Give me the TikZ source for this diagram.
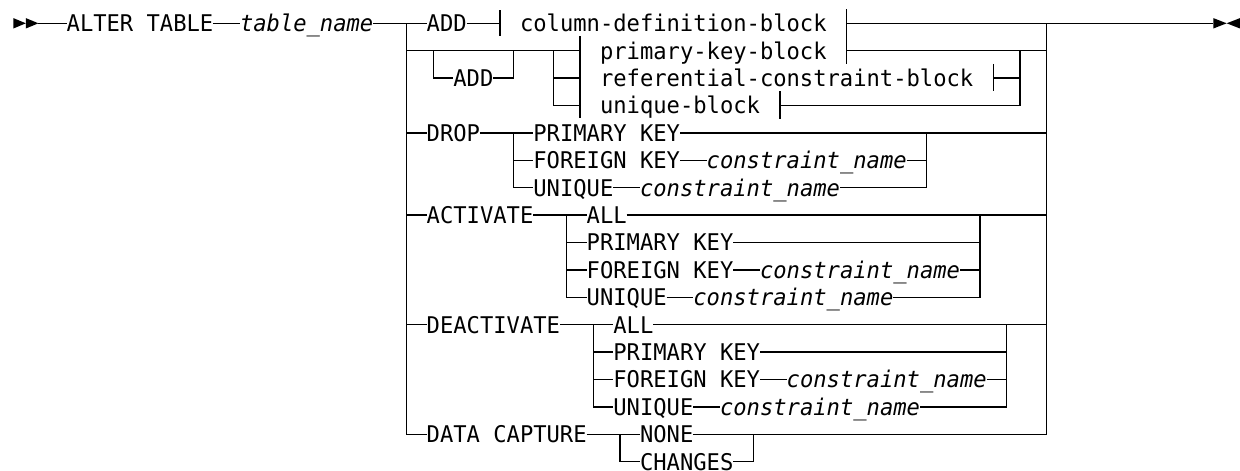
\documentclass[tikz,border=0pt]{standalone}
\usepackage{fontspec}
\setmonofont{DejaVu Sans Mono}[FakeStretch=0.9629, ItalicFont={DejaVu Sans Mono Oblique}, ItalicFeatures={FakeStretch=0.9629}]
\usetikzlibrary{calc}
\newcommand{\us}{\string_}
\begin{document}
\begin{tikzpicture}[x=13.3333pt, y=-27.4pt, line width=1.3pt,
  txt/.style={inner sep=0pt, outer sep=0pt, anchor=west, text height=16.77pt, text depth=0pt,
    font=\fontsize{23pt}{27pt}\selectfont\ttfamily},
  var/.style={txt, font=\fontsize{23pt}{27pt}\selectfont\ttfamily\itshape},
  marker/.style={fill=black, draw=none}]
\useasboundingbox (0,-0.8504) rectangle (93,16.339);

% ---------- texts ----------
\node[txt] (alter) at (5,0) {ALTER TABLE};
\node[var] (tname) at (18,0) {table\us name};
\node[txt] (add1) at (32,0) {ADD};
\node[txt] (cdb) at (39,0) {column-definition-block};
\node[txt] (add2) at (34,2) {ADD};
\node[txt] (pkb) at (45,1) {primary-key-block};
\node[txt] (rcb) at (45,2) {referential-constraint-block};
\node[txt] (ub) at (45,3) {unique-block};
\node[txt] (drop) at (32,4) {DROP};
\node[txt] (pk1) at (40,4) {PRIMARY KEY};
\node[txt] (fk1) at (40,5) {FOREIGN KEY};
\node[var] (cn1) at (53,5) {constraint\us name};
\node[txt] (uq1) at (40,6) {UNIQUE};
\node[var] (cn2) at (48,6) {constraint\us name};
\node[txt] (act) at (32,7) {ACTIVATE};
\node[txt] (all1) at (44,7) {ALL};
\node[txt] (pk2) at (44,8) {PRIMARY KEY};
\node[txt] (fk2) at (44,9) {FOREIGN KEY};
\node[var] (cn3) at (57,9) {constraint\us name};
\node[txt] (uq2) at (44,10) {UNIQUE};
\node[var] (cn4) at (52,10) {constraint\us name};
\node[txt] (deact) at (32,11) {DEACTIVATE};
\node[txt] (all2) at (46,11) {ALL};
\node[txt] (pk3) at (46,12) {PRIMARY KEY};
\node[txt] (fk3) at (46,13) {FOREIGN KEY};
\node[var] (cn5) at (59,13) {constraint\us name};
\node[txt] (uq3) at (46,14) {UNIQUE};
\node[var] (cn6) at (54,14) {constraint\us name};
\node[txt] (dc) at (32,15) {DATA CAPTURE};
\node[txt] (none) at (48,15) {NONE};
\node[txt] (chg) at (48,16) {CHANGES};

% ---------- junctions ----------
\coordinate (start) at (2.88,0);
\coordinate (endm) at (91,0);
\coordinate (L0) at (30.5,0);
\coordinate (L1) at (30.5,1);
\coordinate (L4) at (30.5,4);
\coordinate (L7) at (30.5,7);
\coordinate (L11) at (30.5,11);
\coordinate (R0) at (78.5,0);
\coordinate (R1) at (78.5,1);
\coordinate (R4) at (78.5,4);
\coordinate (R7) at (78.5,7);
\coordinate (R11) at (78.5,11);
\coordinate (t0) at (37.5,0);
\coordinate (t63a) at (63.5,0);
\coordinate (t63b) at (63.5,1);
\coordinate (o1) at (32.5,1);
\coordinate (o2) at (38.5,1);
\coordinate (b1) at (41.5,1);
\coordinate (b2) at (41.5,2);
\coordinate (t43a) at (43.5,1);
\coordinate (t43b) at (43.5,2);
\coordinate (t43c) at (43.5,3);
\coordinate (t74) at (74.5,2);
\coordinate (t58) at (58.5,3);
\coordinate (m1) at (76.5,1);
\coordinate (d1) at (38.5,4);
\coordinate (d2) at (38.5,5);
\coordinate (dr) at (69.5,4);
\coordinate (dr5) at (69.5,5);
\coordinate (a1) at (42.5,7);
\coordinate (a2) at (42.5,8);
\coordinate (a3) at (42.5,9);
\coordinate (ar) at (73.5,7);
\coordinate (ar8) at (73.5,8);
\coordinate (ar9) at (73.5,9);
\coordinate (e1) at (44.5,11);
\coordinate (e2) at (44.5,12);
\coordinate (e3) at (44.5,13);
\coordinate (er) at (75.5,11);
\coordinate (er12) at (75.5,12);
\coordinate (er13) at (75.5,13);
\coordinate (c1) at (46.5,15);
\coordinate (cr) at (56.5,15);

% ---------- start / end markers ----------
\fill[marker] (1,-0.19) -- (1.94,0) -- (1,0.19) -- cycle;
\fill[marker] (1.94,-0.19) -- (2.88,0) -- (1.94,0.19) -- cycle;
\fill[marker] (91,-0.19) -- (92,0) -- (91,0.19) -- cycle;
\fill[marker] (93,-0.19) -- (92,0) -- (93,0.19) -- cycle;

% ---------- main line ----------
\draw (start) -- (alter.west);
\draw (alter.east) -- (tname.west);
\draw (tname.east) -- (add1.west);
\draw (L0) |- (dc.west);
\draw (none.east) -| (R0);
\draw (t63a) -- (endm);

% ---------- ADD blocks ----------
\draw (add1.east) -- (t0);
\draw (t0) ++(0,-0.47) -- ++(0,0.95);
\draw ($(t63a)+(0,-0.52)$) -- ($(t63b)+(0,0.47)$);
\draw (L1) -- (t43a);
\draw (o1) |- (add2.west);
\draw (add2.east) -| (o2);
\draw (b1) |- (t43c);
\draw (b2) -- (t43b);
\draw ($(t43a)+(0,-0.52)$) -- ($(t43c)+(0,0.47)$);
\draw (t74) ++(0,-0.52) -- ++(0,1.0);
\draw (t58) ++(0,-0.52) -- ++(0,1.0);
\draw (t63b) -- (R1);
\draw (t74) -| (m1);
\draw (t58) -| (m1);

% ---------- DROP ----------
\draw (L4) -- (drop.west);
\draw (drop.east) -- (pk1.west);
\draw (pk1.east) -- (R4);
\draw (d1) |- (uq1.west);
\draw (d2) -- (fk1.west);
\draw (fk1.east) -- (cn1.west);
\draw (uq1.east) -- (cn2.west);
\draw (cn1.east) -- (dr5);
\draw (cn2.east) -| (dr);

% ---------- ACTIVATE ----------
\draw (L7) -- (act.west);
\draw (act.east) -- (all1.west);
\draw (all1.east) -- (R7);
\draw (a1) |- (uq2.west);
\draw (a2) -- (pk2.west);
\draw (a3) -- (fk2.west);
\draw (fk2.east) -- (cn3.west);
\draw (uq2.east) -- (cn4.west);
\draw (pk2.east) -- (ar8);
\draw (cn3.east) -- (ar9);
\draw (cn4.east) -| (ar);

% ---------- DEACTIVATE ----------
\draw (L11) -- (deact.west);
\draw (deact.east) -- (all2.west);
\draw (all2.east) -- (R11);
\draw (e1) |- (uq3.west);
\draw (e2) -- (pk3.west);
\draw (e3) -- (fk3.west);
\draw (fk3.east) -- (cn5.west);
\draw (uq3.east) -- (cn6.west);
\draw (pk3.east) -- (er12);
\draw (cn5.east) -- (er13);
\draw (cn6.east) -| (er);

% ---------- DATA CAPTURE ----------
\draw (dc.east) -- (none.west);
\draw (c1) |- (chg.west);
\draw (chg.east) -| (cr);
\end{tikzpicture}
\end{document}
